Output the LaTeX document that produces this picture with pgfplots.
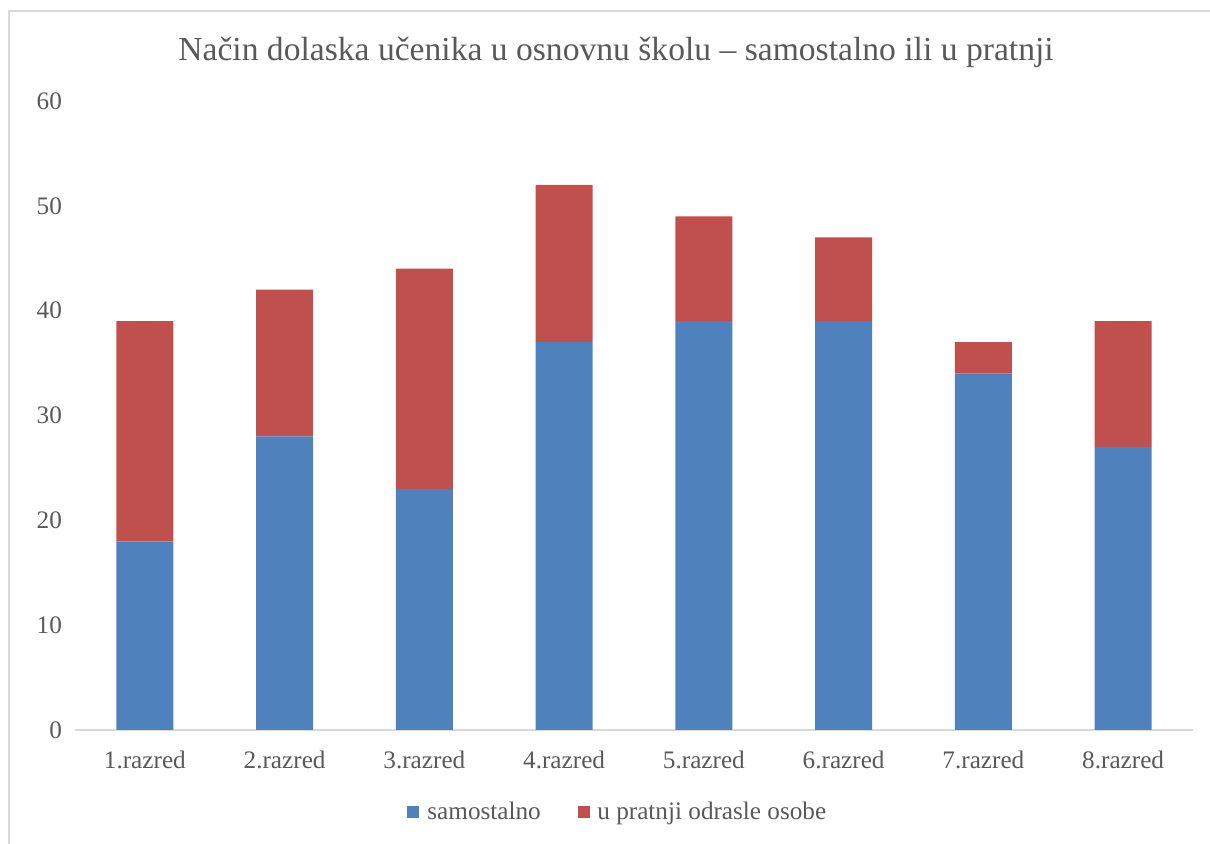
\documentclass[border=0pt]{standalone}
\usepackage{pgfplots}
\pgfplotsset{compat=1.18}
\usepackage{fontspec}
\setmainfont{Liberation Serif}
\definecolor{barblue}{HTML}{4F81BD}
\definecolor{barred}{HTML}{C0504D}
\definecolor{gridgray}{HTML}{D9D9D9}
\definecolor{txtgray}{HTML}{595959}

\begin{document}
\begin{tikzpicture}[x=1pt,y=1pt]
% canvas 1210x844 px at 0.5pt per px
\path[use as bounding box] (0,0) rectangle (605,422);
\draw[gridgray, line width=1pt] (4.5,0) -- (4.5,416.5) -- (605,416.5);
\begin{axis}[
    at={(37.5pt,57pt)}, anchor=south west,
    width=559pt, height=314.5pt,
    scale only axis,
    ybar stacked,
    bar width=28.5pt,
    xmin=-0.5, xmax=7.5,
    ymin=0, ymax=60,
    ytick={0,10,...,60},
    xtick={0,...,7},
    xticklabels={1.razred,2.razred,3.razred,4.razred,5.razred,6.razred,7.razred,8.razred},
    axis x line*=bottom,
    axis y line=none,
    x axis line style={gridgray, line width=0.75pt},
    ymajorgrids,
    grid style={gridgray, line width=0.75pt},
    major tick length=0pt,
    ticklabel style={font=\fontsize{12.6}{14}\selectfont, text=txtgray},
    /pgf/number format/assume math mode=true,
    xticklabel style={yshift=-7pt},
    clip=false,
]
\addplot[draw=none, fill=barblue] coordinates {(0,18) (1,28) (2,23) (3,37) (4,39) (5,39) (6,34) (7,27)};
\addplot[draw=none, fill=barred] coordinates {(0,21) (1,14) (2,21) (3,15) (4,10) (5,8) (6,3) (7,12)};
\pgfplotsinvokeforeach{0,10,...,60}{
  \node[anchor=east, font=\fontsize{12.6}{14}\selectfont, text=txtgray] at (axis cs:-0.5,#1) [xshift=-3pt] {#1};
}
\end{axis}
\node[font=\fontsize{16.8}{20}\selectfont, text=txtgray] at (308,396) {Način dolaska učenika u osnovnu školu – samostalno ili u pratnji};
% legend
\fill[barblue] (203.5,13) rectangle (209.5,19);
\node[anchor=base west, font=\fontsize{12.6}{14}\selectfont, text=txtgray, inner sep=0pt] at (213.5,12) {samostalno};
\fill[barred] (289,13) rectangle (295,19);
\node[anchor=base west, font=\fontsize{12.6}{14}\selectfont, text=txtgray, inner sep=0pt] at (298.5,12) {u pratnji odrasle osobe};
\end{tikzpicture}
\end{document}
